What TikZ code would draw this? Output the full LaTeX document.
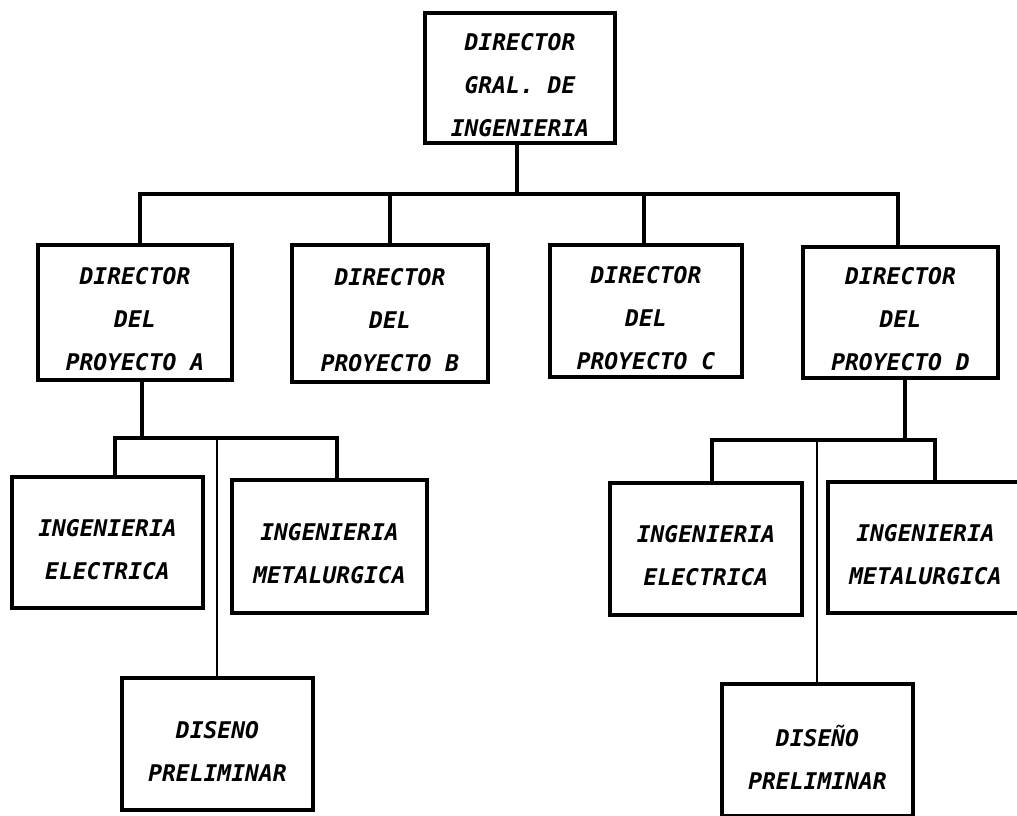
\documentclass[tikz,border=0pt]{standalone}
\usepackage{fontspec}
\newfontfamily\orgfont{DejaVu Sans Mono}
\tikzset{
  boxtext/.style={align=center, inner sep=0pt, yshift=-7pt,
    font={\fontsize{23}{43}\selectfont\orgfont\bfseries\itshape}},
  orgbox/.style={draw, line width=4pt, inner sep=0pt},
  link/.style={line width=3.4pt},
  thinlink/.style={line width=2.2pt}
}
\begin{document}
\begin{tikzpicture}[x=1pt,y=-1pt]
\clip (0,0) rectangle (1017,815);
\fill[white] (0,0) rectangle (1017,815);

% top level
\node[orgbox, minimum width=190pt, minimum height=130pt,
  label={[boxtext]center:DIRECTOR\\GRAL. DE\\INGENIERIA}] (gen) at (520,78) {};

% project directors
\node[orgbox, minimum width=194pt, minimum height=135pt,
  label={[boxtext]center:DIRECTOR\\DEL\\PROYECTO A}] (pa) at (135,312.5) {};
\node[orgbox, minimum width=196pt, minimum height=137pt,
  label={[boxtext]center:DIRECTOR\\DEL\\PROYECTO B}] (pb) at (390,313) {};
\node[orgbox, minimum width=192pt, minimum height=132pt,
  label={[boxtext]center:DIRECTOR\\DEL\\PROYECTO C}] (pc) at (646,311) {};
\node[orgbox, minimum width=195pt, minimum height=131pt,
  label={[boxtext]center:DIRECTOR\\DEL\\PROYECTO D}] (pd) at (900.5,312.5) {};

% departments under project A
\node[orgbox, minimum width=191pt, minimum height=131pt,
  label={[boxtext]center:INGENIERIA\\ELECTRICA}] (ela) at (107.5,542.5) {};
\node[orgbox, minimum width=195pt, minimum height=133pt,
  label={[boxtext]center:INGENIERIA\\METALURGICA}] (mta) at (329.5,546.5) {};
\node[orgbox, minimum width=191pt, minimum height=132pt,
  label={[boxtext]center:DISENO\\PRELIMINAR}] (dsa) at (217.5,744) {};

% departments under project D
\node[orgbox, minimum width=192pt, minimum height=132pt,
  label={[boxtext]center:INGENIERIA\\ELECTRICA}] (eld) at (706,549) {};
\node[orgbox, minimum width=195pt, minimum height=131pt,
  label={[boxtext]center:INGENIERIA\\METALURGICA}] (mtd) at (925.5,547.5) {};
\node[orgbox, minimum width=191pt, minimum height=132pt,
  label={[boxtext]center:DISEÑO\\PRELIMINAR}] (dsd) at (817.5,750) {};

% main bus
\coordinate (bgen) at (517,194);
\coordinate (ba) at (140,194);
\coordinate (bb) at (390,194);
\coordinate (bc) at (644,194);
\coordinate (bd) at (898,194);
\draw[link] (bgen |- gen.south) -- (bgen);
\draw[link] (ba |- pa.north) -- (ba) -- (bd) -- (bd |- pd.north);
\draw[link] (bb) -- (bb |- pb.north);
\draw[link] (bc) -- (bc |- pc.north);

% bus under project A
\coordinate (sa) at (142,438);
\coordinate (sal) at (115,438);
\coordinate (sar) at (337,438);
\coordinate (sam) at (217,438);
\draw[link] (sa |- pa.south) -- (sa);
\draw[link] (sal |- ela.north) -- (sal) -- (sar) -- (sar |- mta.north);
\draw[thinlink] (sam) -- (sam |- dsa.north);

% bus under project D
\coordinate (sd) at (905,440);
\coordinate (sdl) at (712,440);
\coordinate (sdr) at (935,440);
\coordinate (sdm) at (817,440);
\draw[link] (sd |- pd.south) -- (sd);
\draw[link] (sdl |- eld.north) -- (sdl) -- (sdr) -- (sdr |- mtd.north);
\draw[thinlink] (sdm) -- (sdm |- dsd.north);
\end{tikzpicture}
\end{document}
